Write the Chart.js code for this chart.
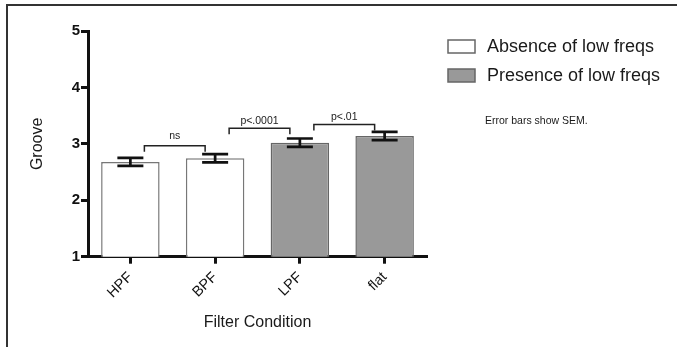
<!DOCTYPE html>
<html>
<head>
<meta charset="utf-8">
<script src="https://cdn.jsdelivr.net/npm/chart.js@4/dist/chart.umd.min.js"></script>
<style>
  html, body { margin:0; padding:0; background:#fff; }
  #wrap { width:677px; height:347px; position:relative; }
</style>
</head>
<body>
<div id="wrap"><canvas id="c"></canvas></div>
<script>
const categories = ['HPF', 'BPF', 'LPF', 'flat'];
const absence    = [2.68, 2.745, null, null];
const presence   = [null, null, 3.02, 3.14];
const sem        = [0.071, 0.074, 0.075, 0.074];
const seriesNames = ['Absence of low freqs', 'Presence of low freqs'];

// significance brackets between neighbouring bars
const bracketFrom  = [0, 1, 2];
const bracketTo    = [1, 2, 3];
const bracketY     = [2.968, 3.277, 3.344];
const bracketLabel = ['ns', 'p<.0001', 'p<.01'];

const note = 'Error bars show SEM.';
const FONT = '"Liberation Sans", Arial, sans-serif';

const decor = {
  id: 'decor',
  beforeDraw(chart) {
    const c = chart.ctx;
    c.save();
    c.fillStyle = '#fff';
    c.fillRect(0, 0, chart.width, chart.height);
    c.strokeStyle = '#333'; c.lineWidth = 2;
    c.beginPath(); c.moveTo(7, chart.height); c.lineTo(7, 5); c.lineTo(chart.width, 5); c.stroke();
    c.restore();
  },
  afterDatasetsDraw(chart) {
    const c = chart.ctx, x = chart.scales.x, y = chart.scales.y;
    c.save();
    // error bars
    c.strokeStyle = '#111'; c.lineWidth = 2.7;
    categories.forEach((_, i) => {
      const v = absence[i] != null ? absence[i] : presence[i];
      const px = x.getPixelForValue(i);
      const hi = y.getPixelForValue(v + sem[i]), lo = y.getPixelForValue(v - sem[i]);
      c.beginPath();
      c.moveTo(px, hi); c.lineTo(px, lo);
      c.moveTo(px - 13, hi); c.lineTo(px + 13, hi);
      c.moveTo(px - 13, lo); c.lineTo(px + 13, lo);
      c.stroke();
    });
    // brackets
    c.strokeStyle = '#222'; c.lineWidth = 1.5;
    c.fillStyle = '#222'; c.font = '10.5px ' + FONT;
    c.textAlign = 'center'; c.textBaseline = 'alphabetic';
    bracketFrom.forEach((f, k) => {
      const x1 = x.getPixelForValue(f) + 14, x2 = x.getPixelForValue(bracketTo[k]) - 10;
      const py = y.getPixelForValue(bracketY[k]);
      c.beginPath();
      c.moveTo(x1, py + 6); c.lineTo(x1, py); c.lineTo(x2, py); c.lineTo(x2, py + 6);
      c.stroke();
      c.fillText(bracketLabel[k], (x1 + x2) / 2, py - (k === 0 ? 7 : 4));
    });
    // legend
    const ds = chart.data.datasets;
    c.textAlign = 'left'; c.textBaseline = 'middle';
    c.font = '18px ' + FONT;
    ds.forEach((d, i) => {
      const top = 40 + i * 29;
      c.fillStyle = d.backgroundColor; c.strokeStyle = '#666'; c.lineWidth = 1.5;
      c.fillRect(448, top, 27, 13); c.strokeRect(448, top, 27, 13);
      c.fillStyle = '#1a1a1a';
      c.fillText(d.label, 487, top + 7);
    });
    c.font = '10.5px ' + FONT;
    c.textBaseline = 'alphabetic';
    c.fillText(note, 485, 124);
    c.restore();
  }
};

new Chart(document.getElementById('c'), {
  type: 'bar',
  data: {
    labels: categories,
    datasets: [
      { label: seriesNames[0], data: absence, backgroundColor: '#ffffff', borderColor: '#777', borderWidth: 1.5 },
      { label: seriesNames[1], data: presence, backgroundColor: '#999999', borderColor: '#666', borderWidth: 1.5 }
    ]
  },
  options: {
    responsive: true, maintainAspectRatio: false, animation: false,
    layout: { padding: { top: 31, right: 250, bottom: 0, left: 0 } },
    datasets: { bar: { categoryPercentage: 1, barPercentage: 0.69 } },
    plugins: { legend: { display: false }, tooltip: { enabled: false } },
    scales: {
      x: {
        stacked: true,
        grid: { display: true, offset: false, drawOnChartArea: false, drawTicks: true, tickLength: 7, tickWidth: 3, tickColor: '#111' },
        border: { display: true, width: 3, color: '#111' },
        ticks: { color: '#111', font: { family: FONT, size: 14.5 }, maxRotation: 45, minRotation: 45, padding: 5 },
        title: { display: true, text: 'Filter Condition', color: '#1a1a1a', font: { family: FONT, size: 16 }, padding: { top: 0, bottom: 14.4 } },
        afterFit: s => { s.height = 90.3; }
      },
      y: {
        min: 1, max: 5,
        grid: { display: true, drawOnChartArea: false, drawTicks: true, tickLength: 7, tickWidth: 3, tickColor: '#111' },
        border: { display: true, width: 3, color: '#111' },
        ticks: { stepSize: 1, color: '#111', font: { family: FONT, size: 15, weight: 'bold' }, padding: 1 },
        title: { display: true, text: 'Groove', color: '#1a1a1a', font: { family: FONT, size: 16 }, padding: { top: 28.4, bottom: 0 } },
        afterFit: s => { s.width = 88; }
      }
    }
  },
  plugins: [decor]
});
</script>
</body>
</html>
